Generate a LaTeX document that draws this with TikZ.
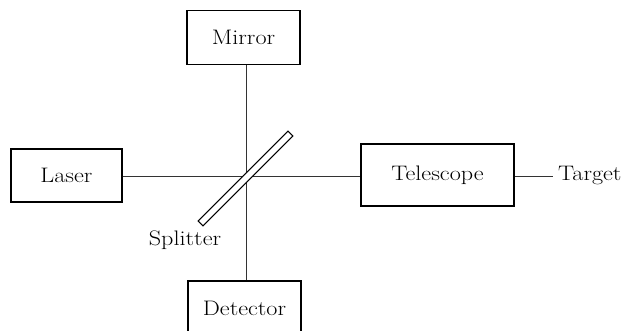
\documentclass[tikz,border=0pt]{standalone}
\usepackage{fontspec}
\newcommand{\wtxt}[1]{\scalebox{1.15}[1]{\fontsize{21}{25}\selectfont #1}}
\begin{document}
\begin{tikzpicture}[x=1pt,y=-1pt,
  box/.style={draw,line width=1.2pt,inner sep=0pt},
  wire/.style={line width=0.8pt,black!80},
  lbl/.style={inner sep=0pt}]
\useasboundingbox (0,0) rectangle (627,331);
\node[box,minimum width=113pt,minimum height=54pt] (mirror) at (243.5,37.5) {\wtxt{Mirror}};
\node[box,minimum width=111pt,minimum height=53pt] (laser) at (66.5,175.5) {\wtxt{Laser}};
\node[box,minimum width=153pt,minimum height=62pt] (tele) at (437.5,175) {\wtxt{Telescope}};
\node[box,minimum width=113pt,minimum height=54pt] (det) at (244.5,308) {\wtxt{Detector}};
\coordinate (c) at (246.7,176.7);
\node[lbl,anchor=west,inner xsep=5pt] (target) at (553,176) {\wtxt{Target}};
\node[lbl] (splab) at (185,240) {\wtxt{Splitter}};
\draw[wire] (mirror.south -| c) -- (det.north -| c);
\draw[wire] (laser.east |- c) -- (tele.west |- c);
\draw[wire] (tele.east |- target.west) -- (target.west);
\node[draw,fill=white,line width=1.1pt,rotate=45,minimum width=127pt,minimum height=7pt,inner sep=0pt] (split) at (245.5,178.5) {};
\end{tikzpicture}
\end{document}
